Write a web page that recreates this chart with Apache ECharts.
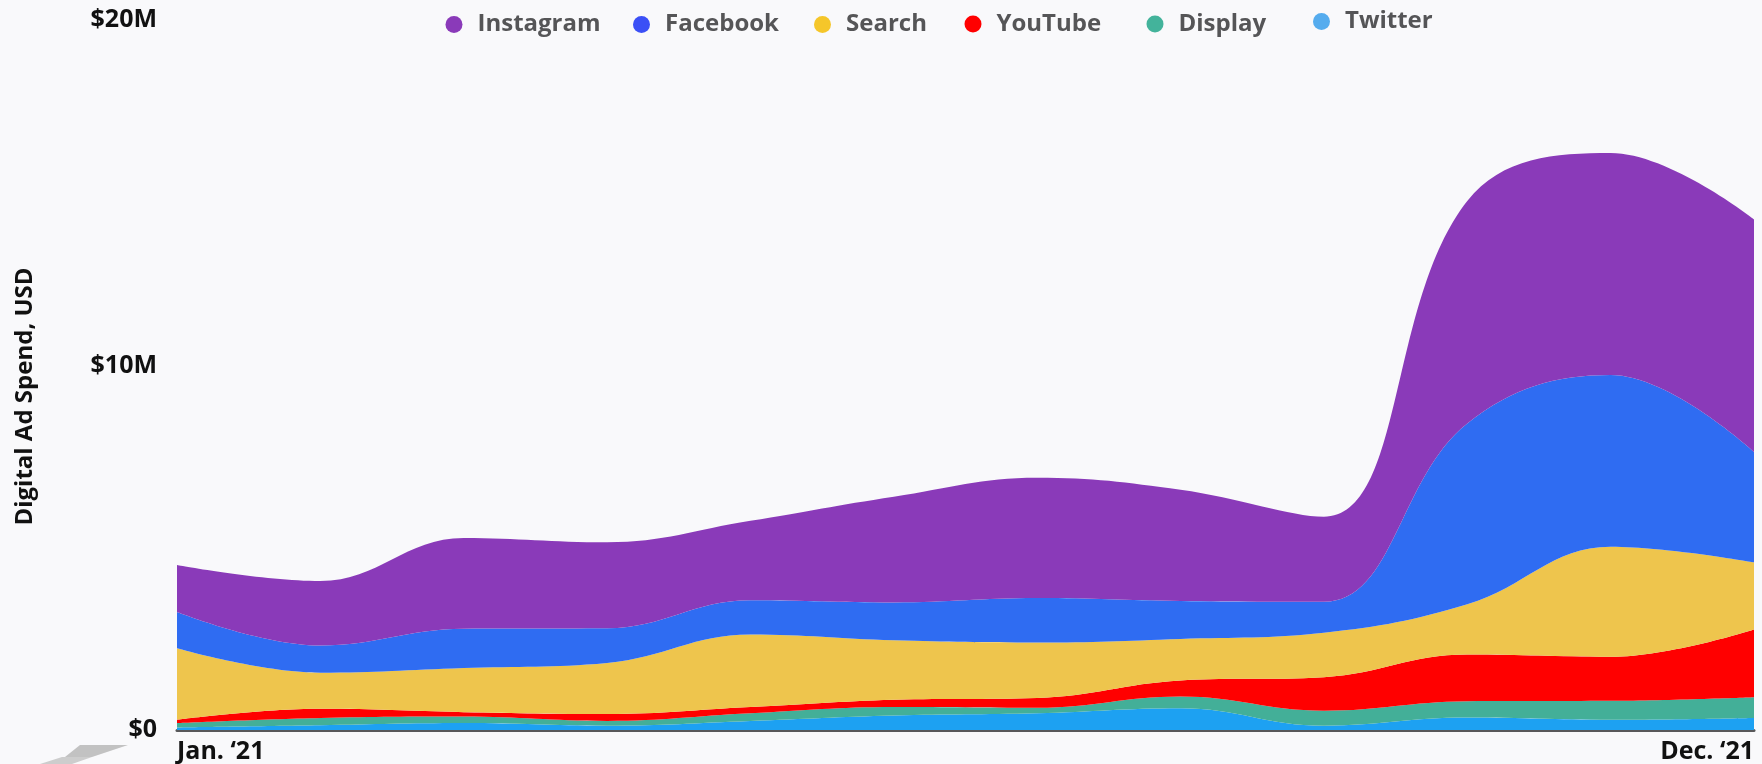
<!DOCTYPE html>
<html>
<head>
<meta charset="utf-8">
<script src="https://cdn.jsdelivr.net/npm/echarts@6/dist/echarts.min.js"></script>
<style>
html,body{margin:0;padding:0;background:#f9f9fb;}
#chart{width:1762px;height:764px;}
</style>
</head>
<body>
<div id="chart"></div>
<script>
// Months (x categories)
const months = ['Jan. \u201821','Feb. \u201821','Mar. \u201821','Apr. \u201821','May \u201821','Jun. \u201821',
                'Jul. \u201821','Aug. \u201821','Sep. \u201821','Oct. \u201821','Nov. \u201821','Dec. \u201821'];
// Monthly spend per channel, millions USD (stacked bottom -> top: Twitter, Display, YouTube, Search, Facebook, Instagram)
const twitter   = [0.07,0.13,0.19,0.12,0.25,0.40,0.46,0.60,0.12,0.34,0.28,0.33];
const display   = [0.12,0.20,0.18,0.13,0.21,0.23,0.15,0.32,0.41,0.45,0.52,0.57];
const youtube   = [0.09,0.25,0.12,0.19,0.17,0.20,0.27,0.44,0.92,1.28,1.21,1.86];
const search    = [1.96,0.99,1.21,1.40,1.99,1.63,1.52,1.14,1.22,1.38,3.02,1.84];
const facebook  = [1.00,0.75,1.08,0.95,0.94,1.04,1.22,1.04,0.85,4.96,4.71,3.03];
const instagram = [1.29,1.77,2.49,2.36,2.18,2.90,3.30,3.05,2.33,6.10,6.09,6.38];
// Y tick values (millions)
const yTicks = [0, 10, 20];

const areaColors = {Instagram:'#8A3AB9', Facebook:'#2F6CF2', Search:'#EEC54D', YouTube:'#FF0000', Display:'#43AF98', Twitter:'#1DA1F2'};
const legendColors = {Instagram:'#8A3AB9', Facebook:'#3B50F6', Search:'#F5C62A', YouTube:'#FF0000', Display:'#43B39B', Twitter:'#55ACEE'};
const legendOrder = ['Instagram','Facebook','Search','YouTube','Display','Twitter'];
const legendLeft = {Instagram:445.5, Facebook:633, Search:814, YouTube:964.5, Display:1146.5, Twitter:1313};
const legendTop  = {Instagram:12.5, Facebook:12.5, Search:12.5, YouTube:12, Display:12, Twitter:9.5};

const FONT = '"Open Sans", "Noto Sans", sans-serif';

function mk(name, data) {
  return {
    name: name, type: 'line', stack: 'total', data: data,
    smooth: 0.4, showSymbol: false, symbol: 'none',
    lineStyle: {width: 0},
    itemStyle: {color: areaColors[name]},
    areaStyle: {color: areaColors[name], opacity: 1},
    emphasis: {disabled: true}
  };
}

const legends = legendOrder.map(n => ({
  left: legendLeft[n], top: legendTop[n], padding: 0,
  icon: 'circle', itemWidth: 17, itemHeight: 17, itemGap: 0,
  textStyle: {fontFamily: FONT, fontWeight: 'bold', fontSize: 24, color: '#555557', padding: [0,0,0,10]},
  data: [{name: n, itemStyle: {color: legendColors[n]}}]
}));

const chart = echarts.init(document.getElementById('chart'));
chart.setOption({
  backgroundColor: '#f9f9fb',
  animation: false,
  textStyle: {fontFamily: FONT},
  legend: legends,
  grid: {left: 177, right: 8, top: 1, bottom: 34, containLabel: false},
  xAxis: {
    type: 'category', data: months, boundaryGap: false,
    axisLine: {show: true, lineStyle: {color: '#58585a', width: 3}},
    axisTick: {show: false},
    splitLine: {show: false},
    axisLabel: {
      interval: (i) => i === 0 || i === months.length - 1,
      fontFamily: FONT, fontWeight: 'bold', fontSize: 25, color: '#111', margin: 9,
      alignMinLabel: 'left', alignMaxLabel: 'right'
    }
  },
  yAxis: {
    type: 'value', min: yTicks[0], max: yTicks[yTicks.length-1], interval: yTicks[1]-yTicks[0],
    name: 'Digital Ad Spend, USD', nameLocation: 'middle', nameGap: 140,
    nameTextStyle: {fontFamily: FONT, fontWeight: 'bold', fontSize: 24, color: '#111', padding: [0, 62, 0, 0]},
    axisLine: {show: false}, axisTick: {show: false}, splitLine: {show: false},
    axisLabel: {
      formatter: v => v === 0 ? '$0' : '$' + v + 'M',
      fontFamily: FONT, fontWeight: 'bold', fontSize: 25, color: '#111', margin: 20,
      verticalAlignMaxLabel: 'top', lineHeight: 38
    }
  },
  graphic: [
    {type: 'polygon', silent: true, shape: {points: [[80,745],[128,745],[92,757],[65,757]]}, style: {fill: '#c2c2c2'}},
    {type: 'polygon', silent: true, shape: {points: [[40,764],[62,757],[92,757],[72,764]]}, style: {fill: '#cdcdcd'}}
  ],
  series: [
    mk('Twitter', twitter),
    mk('Display', display),
    mk('YouTube', youtube),
    mk('Search', search),
    mk('Facebook', facebook),
    mk('Instagram', instagram)
  ]
});
</script>
</body>
</html>
